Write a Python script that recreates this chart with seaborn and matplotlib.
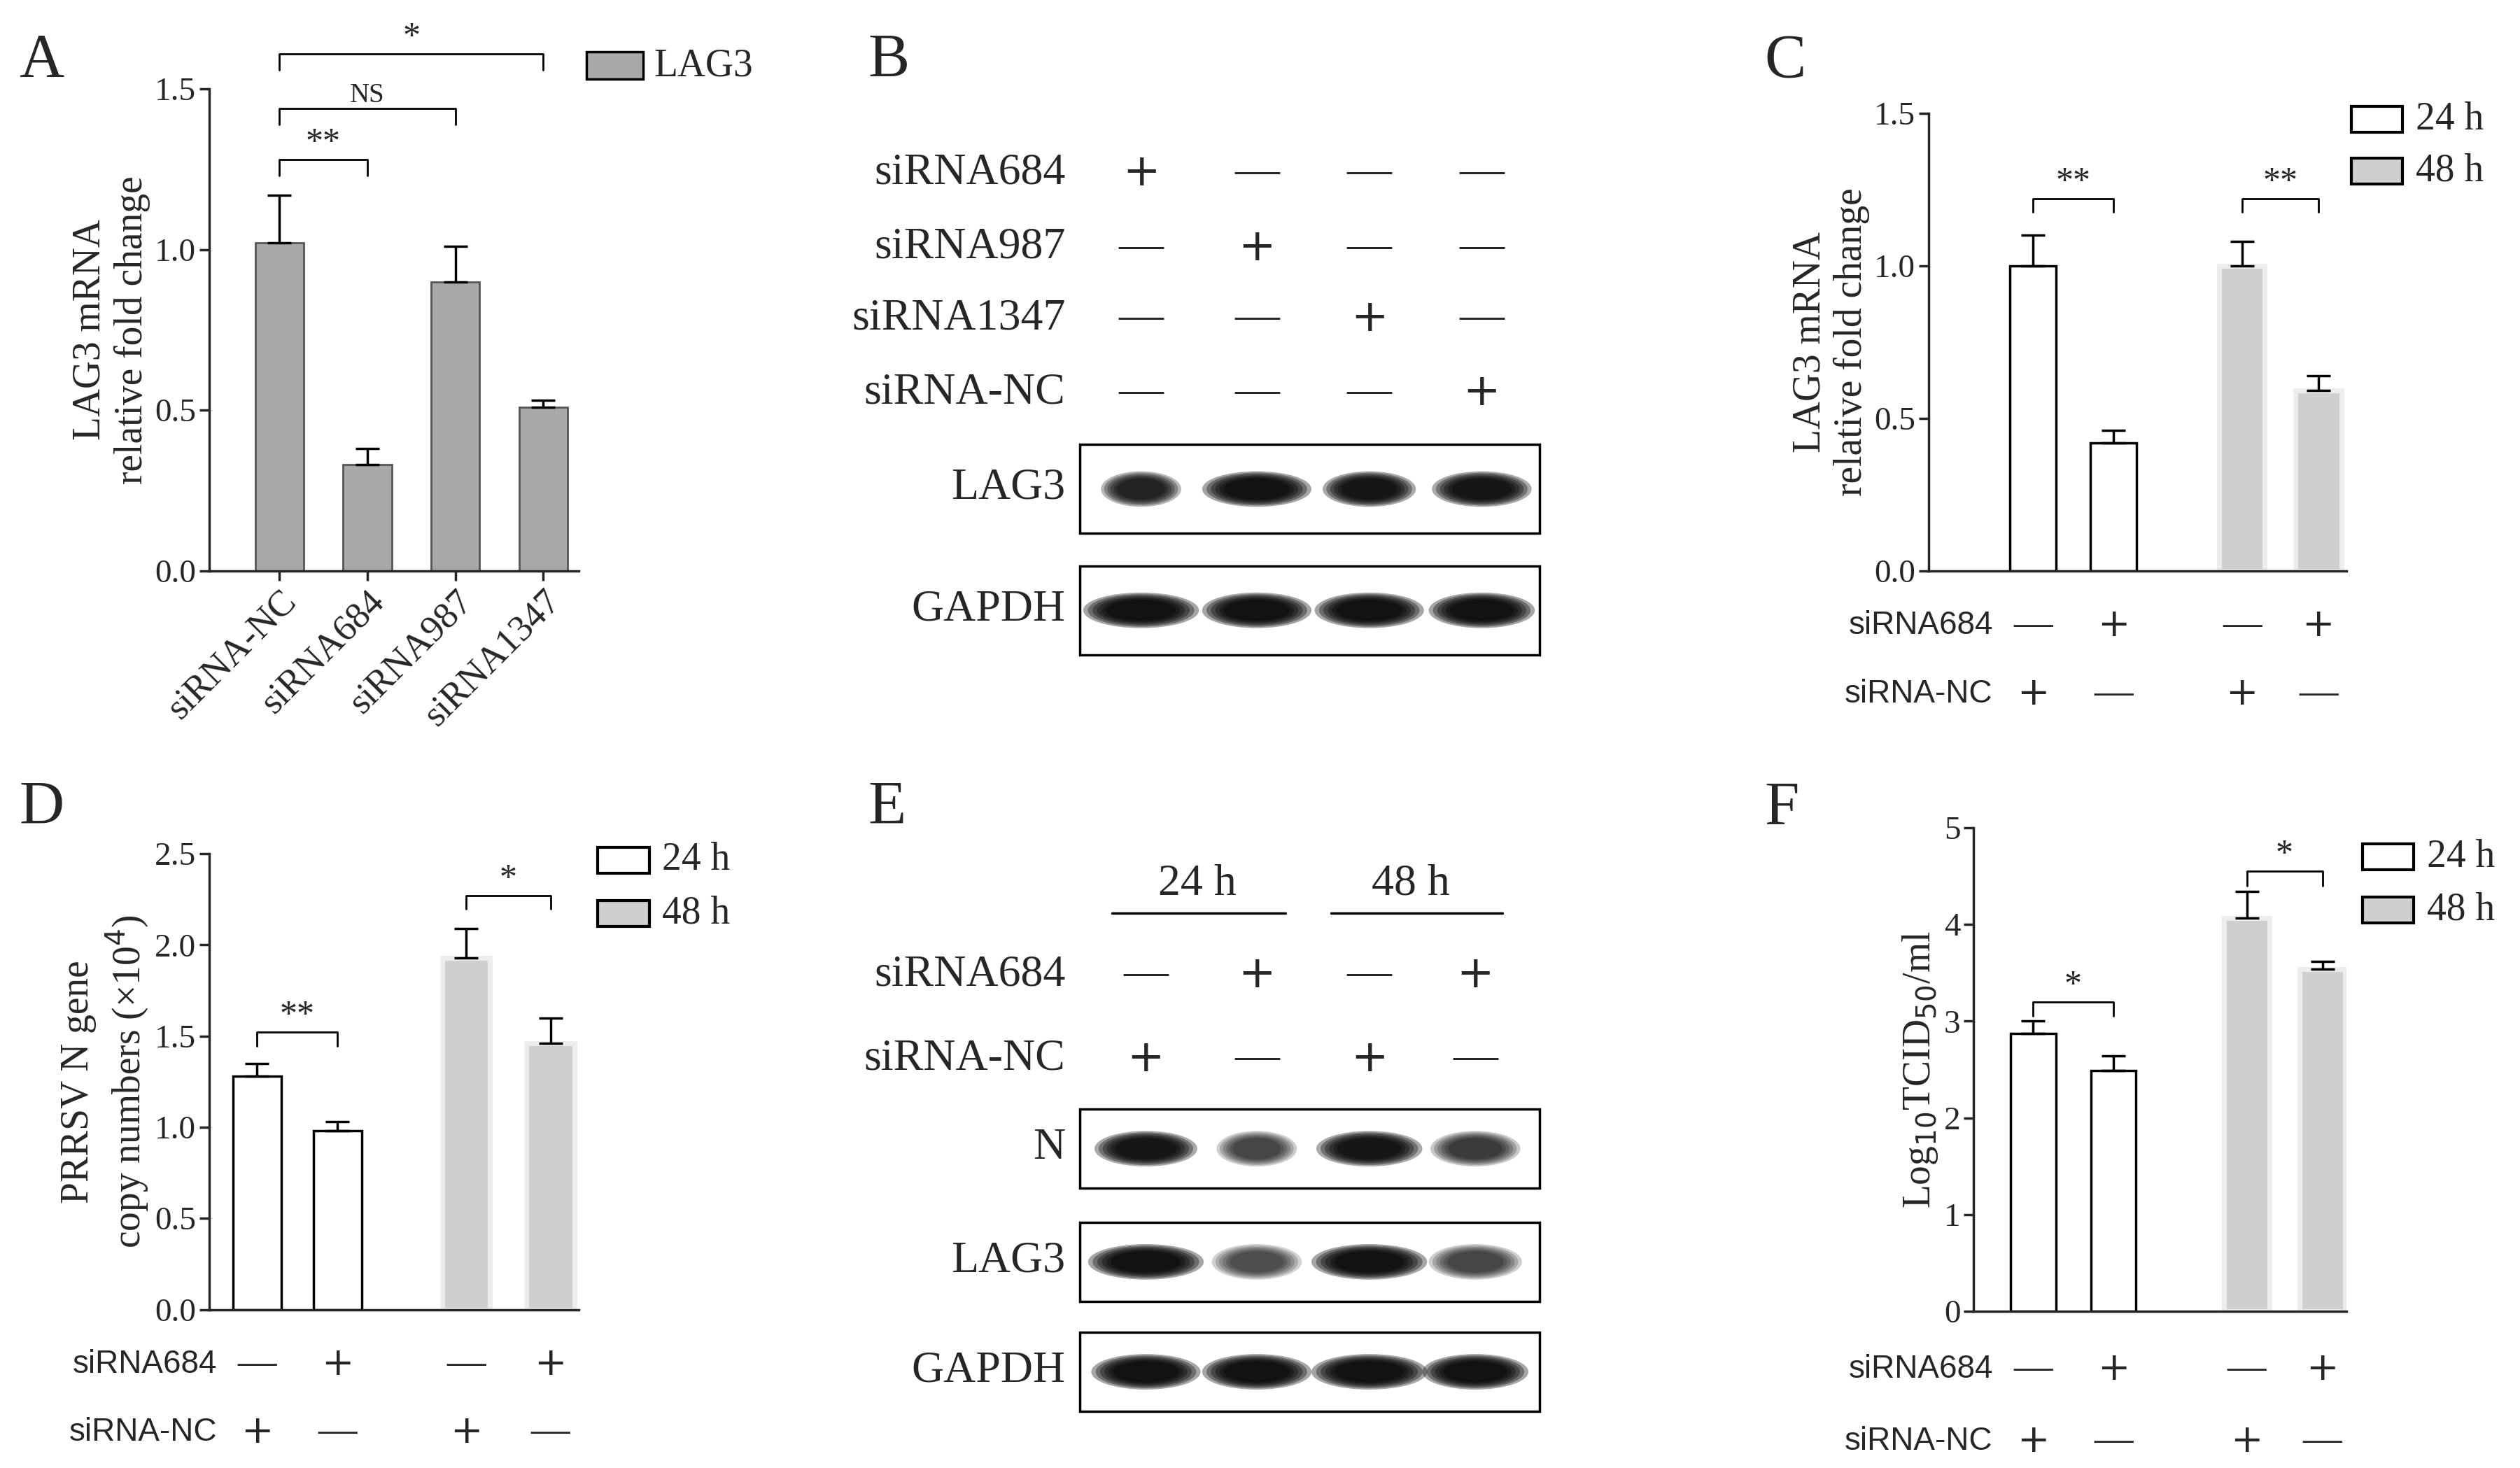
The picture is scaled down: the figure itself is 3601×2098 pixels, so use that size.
import numpy as np
import pandas as pd
import matplotlib
matplotlib.use("Agg")
import matplotlib.pyplot as plt
from matplotlib.patches import Rectangle, Ellipse
import seaborn as sns

sns.set_theme(style="ticks")
plt.rcParams['font.family'] = ['Liberation Serif', 'DejaVu Serif']
plt.rcParams['axes.linewidth'] = 2.5

# ---------------- data ----------------
a_cats = ["siRNA-NC", "siRNA684", "siRNA987", "siRNA1347"]
a_vals = [1.02, 0.33, 0.90, 0.51]
a_err = [0.15, 0.05, 0.11, 0.02]

grp_time = ["24 h", "24 h", "48 h", "48 h"]
c_vals = [1.00, 0.42, 1.00, 0.59]
c_err = [0.10, 0.04, 0.08, 0.05]
d_vals = [1.28, 0.98, 1.93, 1.46]
d_err = [0.07, 0.05, 0.16, 0.14]
f_vals = [2.87, 2.49, 4.07, 3.54]
f_err = [0.13, 0.15, 0.27, 0.08]

row684 = ["—", "+", "—", "+"]
rowNC = ["+", "—", "+", "—"]

b_rows = ["siRNA684", "siRNA987", "siRNA1347", "siRNA-NC"]
b_marks = [["+", "—", "—", "—"], ["—", "+", "—", "—"],
           ["—", "—", "+", "—"], ["—", "—", "—", "+"]]
b_lag3_w = [50, 68, 58, 62]
b_lag3_i = [0.8, 1.0, 0.95, 0.95]
b_gapdh_w = [72, 68, 68, 66]
b_gapdh_i = [1.0, 1.0, 1.0, 1.0]

e_n_w = [64, 50, 66, 56]
e_n_i = [0.95, 0.55, 0.95, 0.6]
e_lag3_w = [72, 56, 72, 58]
e_lag3_i = [1.0, 0.5, 1.0, 0.55]
e_gapdh_w = [68, 68, 72, 66]
e_gapdh_i = [1.0, 1.0, 1.0, 1.0]

W, H = 1568, 908
fig = plt.figure(figsize=(36.01, 20.98), dpi=100)
ov = fig.add_axes([0, 0, 1, 1])
ov.set_xlim(0, W); ov.set_ylim(H, 0); ov.axis("off")

def fr(x0, y0, x1, y1):
    return [x0 / W, 1 - y1 / H, (x1 - x0) / W, (y1 - y0) / H]

TICK = 34
LAB = 40
ROW = 40
BIG = 46

def style_ax(ax, ymax, step):
    sns.despine(ax=ax)
    ax.set_ylim(0, ymax)
    ax.set_yticks(np.arange(0, ymax + 1e-9, step))
    ax.tick_params(axis="both", labelsize=TICK, width=2.5, length=10, direction="out")

def bracket(ax, x0, x1, y, h, txt, fs=36):
    ax.plot([x0, x0, x1, x1], [y - h, y, y, y - h], color="black", lw=2, clip_on=False)
    ax.text((x0 + x1) / 2, y, txt, ha="center", va="bottom", fontsize=fs, clip_on=False)

def pm_family(m):
    return "DejaVu Sans" if m == "+" else None

def grp_panel(rect, xpos, xlim, vals, errs, ymax, step, ylabel, brackets):
    ax = fig.add_axes(rect)
    df = pd.DataFrame({"x": xpos, "y": vals, "t": grp_time})
    sns.barplot(data=df, x="x", y="y", hue="t", native_scale=True, dodge=False,
                palette={"24 h": "white", "48 h": "#cfcfcf"}, legend=False,
                ax=ax, width=0.6, saturation=1)
    for p in ax.patches:
        if p.get_facecolor()[0] > 0.95:
            p.set_edgecolor("black"); p.set_linewidth(2.5)
        else:
            p.set_edgecolor("#ededed"); p.set_linewidth(5)
    for x, v, e in zip(xpos, vals, errs):
        ax.errorbar(x, v, yerr=[[0], [e]], color="black", capsize=12, capthick=2.5, elinewidth=2.5)
    style_ax(ax, ymax, step)
    ax.set_xticks([]); ax.set_xlabel("")
    ax.set_ylabel(ylabel, fontsize=LAB)
    ax.set_xlim(*xlim)
    tr = ax.get_xaxis_transform()
    for x, m1, m2 in zip(xpos, row684, rowNC):
        ax.text(x, -0.12, m1, transform=tr, ha="center", va="center", fontsize=ROW, family=pm_family(m1))
        ax.text(x, -0.27, m2, transform=tr, ha="center", va="center", fontsize=ROW, family=pm_family(m2))
    lx = xpos[0] - 0.5
    ax.text(lx, -0.12, "siRNA684", transform=tr, ha="right", va="center", fontsize=33, family="Liberation Sans")
    ax.text(lx, -0.27, "siRNA-NC", transform=tr, ha="right", va="center", fontsize=33, family="Liberation Sans")
    for (x0, x1, y, t) in brackets:
        bracket(ax, xpos[x0], xpos[x1], y, ymax * 0.03, t)
    return ax

# ---------------- Panel A ----------------
axA = fig.add_axes(fr(130, 55, 360, 353))
dfA = pd.DataFrame({"x": a_cats, "y": a_vals})
sns.barplot(data=dfA, x="x", y="y", color="#a9a9a9", ax=axA, width=0.55, saturation=1)
for p in axA.patches:
    p.set_edgecolor("#555555"); p.set_linewidth(2)
for i, (v, e) in enumerate(zip(a_vals, a_err)):
    axA.errorbar(i, v, yerr=[[0], [e]], color="black", capsize=12, capthick=2.5, elinewidth=2.5)
style_ax(axA, 1.5, 0.5)
axA.set_xlabel("")
axA.set_ylabel("LAG3 mRNA\nrelative fold change", fontsize=LAB)
axA.set_xticks(range(4))
axA.set_xticklabels(a_cats, rotation=45, ha="right", rotation_mode="anchor", fontsize=38)
axA.set_xlim(-0.8, 3.4)
bracket(axA, 0, 1, 1.28, 0.05, "**")
bracket(axA, 0, 2, 1.44, 0.05, "NS", fs=28)
bracket(axA, 0, 3, 1.61, 0.05, "*")
ov.add_patch(Rectangle((365, 32), 35, 17, fc="#a9a9a9", ec="black", lw=2.5))
ov.text(407, 41, "LAG3", fontsize=40, va="center")

# ---------------- Panels C, D, F ----------------
grp_panel(fr(1200, 70, 1460, 353), [0, 1, 2.6, 3.55], (-1.3, 3.9), c_vals, c_err, 1.5, 0.5,
          "LAG3 mRNA\nrelative fold change", [(0, 1, 1.22, "**"), (2, 3, 1.22, "**")])
grp_panel(fr(130, 528, 360, 810), [0, 1, 2.6, 3.65], (-0.6, 4.0), d_vals, d_err, 2.5, 0.5,
          "PRRSV N gene\ncopy numbers (×10$^4$)", [(0, 1, 1.52, "**"), (2, 3, 2.27, "*")])
grp_panel(fr(1228, 512, 1460, 811), [0, 1, 2.66, 3.6], (-0.74, 3.9), f_vals, f_err, 5, 1,
          "Log$_{10}$TCID$_{50}$/ml", [(0, 1, 3.2, "*"), (2, 3, 4.55, "*")])

def legend_boxes(x, ys):
    ov.add_patch(Rectangle((x, ys[0]), 32, 16, fc="white", ec="black", lw=3))
    ov.add_patch(Rectangle((x, ys[1]), 32, 16, fc="#cfcfcf", ec="black", lw=3))
    ov.text(x + 40, ys[0] + 8, "24 h", fontsize=40, va="center")
    ov.text(x + 40, ys[1] + 8, "48 h", fontsize=40, va="center")
legend_boxes(1463, [66, 98])
legend_boxes(372, [524, 557])
legend_boxes(1470, [522, 555])

# ---------------- Blots ----------------
def blot(y0, y1, xs, widths, intens):
    ov.add_patch(Rectangle((672, y0), 286, y1 - y0, fc="white", ec="black", lw=2.5))
    yc = (y0 + y1) / 2
    for x, w, it in zip(xs, widths, intens):
        for k in range(6):
            s = 0.6 + 0.08 * k
            ov.add_patch(Ellipse((x, yc), w * s, 22 * s, fc="black", ec="none", alpha=it * 0.35))

bx = [710, 782, 852, 922]
for r, (lab, marks) in enumerate(zip(b_rows, b_marks)):
    y = [107, 153, 197, 243][r]
    ov.text(663, y, lab, ha="right", va="center", fontsize=BIG)
    for x, m in zip(bx, marks):
        ov.text(x, y, m, ha="center", va="center", fontsize=BIG, family=pm_family(m))
blot(275, 330, bx, b_lag3_w, b_lag3_i)
blot(350, 405, bx, b_gapdh_w, b_gapdh_i)
ov.text(663, 302, "LAG3", ha="right", va="center", fontsize=BIG)
ov.text(663, 377, "GAPDH", ha="right", va="center", fontsize=BIG)

ex = [713, 782, 852, 918]
ov.text(745, 547, "24 h", ha="center", va="center", fontsize=BIG)
ov.text(878, 547, "48 h", ha="center", va="center", fontsize=BIG)
ov.plot([692, 800], [565, 565], color="black", lw=2.5)
ov.plot([828, 935], [565, 565], color="black", lw=2.5)
ov.text(663, 603, "siRNA684", ha="right", va="center", fontsize=BIG)
ov.text(663, 655, "siRNA-NC", ha="right", va="center", fontsize=BIG)
for x, m1, m2 in zip(ex, row684, rowNC):
    ov.text(x, 603, m1, ha="center", va="center", fontsize=BIG, family=pm_family(m1))
    ov.text(x, 655, m2, ha="center", va="center", fontsize=BIG, family=pm_family(m2))
blot(686, 735, ex, e_n_w, e_n_i)
blot(756, 805, ex, e_lag3_w, e_lag3_i)
blot(824, 873, ex, e_gapdh_w, e_gapdh_i)
ov.text(663, 710, "N", ha="right", va="center", fontsize=BIG)
ov.text(663, 780, "LAG3", ha="right", va="center", fontsize=BIG)
ov.text(663, 848, "GAPDH", ha="right", va="center", fontsize=BIG)

# ---------------- Panel letters ----------------
for t, x, y in [("A", 12, 38), ("B", 540, 38), ("C", 1098, 38),
                ("D", 12, 500), ("E", 540, 500), ("F", 1098, 500)]:
    ov.text(x, y, t, fontsize=64, va="center")

fig.savefig("out.png", dpi=100)
